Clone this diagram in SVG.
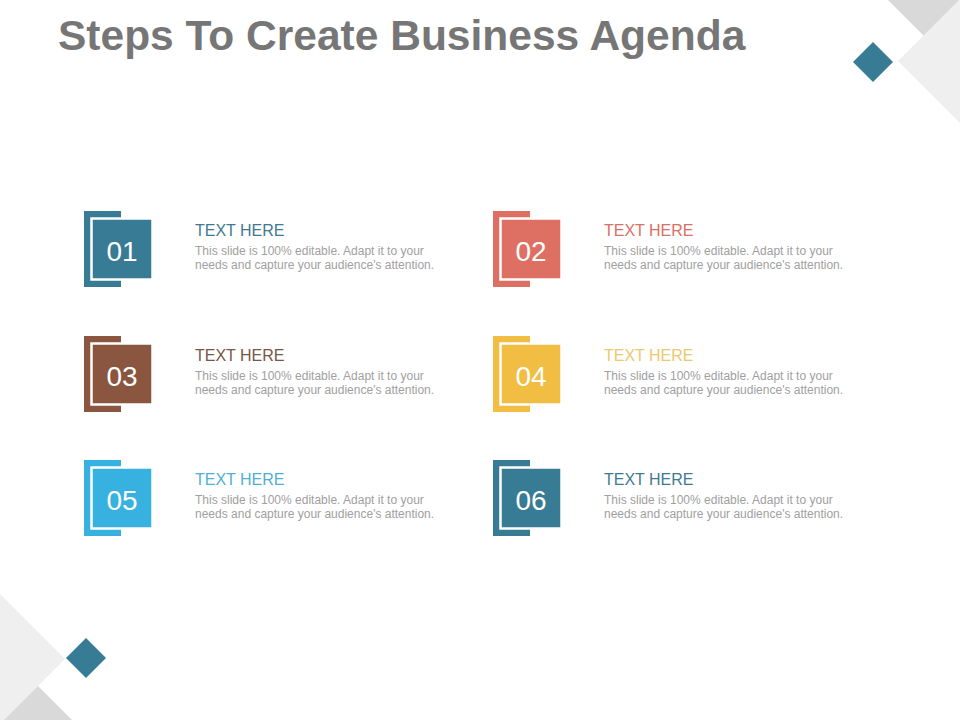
<svg xmlns="http://www.w3.org/2000/svg" width="960" height="720" viewBox="0 0 960 720">
<style>
.title{font-family:"Liberation Sans",Arial,sans-serif;font-weight:bold;font-size:42.5px;fill:#767676}
.num{font-family:"Liberation Sans",Arial,sans-serif;font-size:28px;fill:#ffffff;text-anchor:middle}
.head{font-family:"Liberation Sans",Arial,sans-serif;font-size:16px}
.body{font-family:"Liberation Sans",Arial,sans-serif;font-size:12px;fill:#a0a0a0}
.front{stroke:#ffffff;stroke-width:2.5}
</style>
<rect width="960" height="720" fill="#ffffff"/>
<g id="decor">
<polygon points="888,0 960,0 924,36" fill="#d9d9d9"/>
<polygon points="898,61 960,-1 960,123" fill="#efefef"/>
<polygon points="873,42 893,62 873,82 853,62" fill="#377b94"/>
<polygon points="0,594 65,659 0,724" fill="#efefef"/>
<polygon points="4,720 38,686 72,720" fill="#d9d9d9"/>
<polygon points="86,638 106,658 86,678 66,658" fill="#377b94"/>
</g>
<text class="title" x="58" y="50">Steps To Create Business Agenda</text>
<g id="connectors"></g>
<g id="node01">
<rect x="84" y="211" width="37" height="76" fill="#377b94"/>
<rect class="front" x="91.5" y="218.5" width="61" height="61" fill="#377b94"/>
<text class="num" x="122" y="261">01</text>
<text class="head" x="195" y="236" fill="#3f7a91">TEXT HERE</text>
<text class="body" x="195" y="255">This slide is 100% editable. Adapt it to your</text>
<text class="body" x="195" y="269">needs and capture your audience's attention.</text>
</g>
<g id="node02">
<rect x="493" y="211" width="37" height="76" fill="#de7063"/>
<rect class="front" x="500.5" y="218.5" width="61" height="61" fill="#de7063"/>
<text class="num" x="531" y="261">02</text>
<text class="head" x="604" y="236" fill="#d87066">TEXT HERE</text>
<text class="body" x="604" y="255">This slide is 100% editable. Adapt it to your</text>
<text class="body" x="604" y="269">needs and capture your audience's attention.</text>
</g>
<g id="node03">
<rect x="84" y="336" width="37" height="76" fill="#8b5640"/>
<rect class="front" x="91.5" y="343.5" width="61" height="61" fill="#8b5640"/>
<text class="num" x="122" y="386">03</text>
<text class="head" x="195" y="361" fill="#7a5647">TEXT HERE</text>
<text class="body" x="195" y="380">This slide is 100% editable. Adapt it to your</text>
<text class="body" x="195" y="394">needs and capture your audience's attention.</text>
</g>
<g id="node04">
<rect x="493" y="336" width="37" height="76" fill="#f1bd42"/>
<rect class="front" x="500.5" y="343.5" width="61" height="61" fill="#f1bd42"/>
<text class="num" x="531" y="386">04</text>
<text class="head" x="604" y="361" fill="#ecc86e">TEXT HERE</text>
<text class="body" x="604" y="380">This slide is 100% editable. Adapt it to your</text>
<text class="body" x="604" y="394">needs and capture your audience's attention.</text>
</g>
<g id="node05">
<rect x="84" y="460" width="37" height="76" fill="#37b1e0"/>
<rect class="front" x="91.5" y="467.5" width="61" height="61" fill="#37b1e0"/>
<text class="num" x="122" y="510">05</text>
<text class="head" x="195" y="485" fill="#4fb0d4">TEXT HERE</text>
<text class="body" x="195" y="504">This slide is 100% editable. Adapt it to your</text>
<text class="body" x="195" y="518">needs and capture your audience's attention.</text>
</g>
<g id="node06">
<rect x="493" y="460" width="37" height="76" fill="#377b94"/>
<rect class="front" x="500.5" y="467.5" width="61" height="61" fill="#377b94"/>
<text class="num" x="531" y="510">06</text>
<text class="head" x="604" y="485" fill="#3f7a91">TEXT HERE</text>
<text class="body" x="604" y="504">This slide is 100% editable. Adapt it to your</text>
<text class="body" x="604" y="518">needs and capture your audience's attention.</text>
</g>
</svg>
